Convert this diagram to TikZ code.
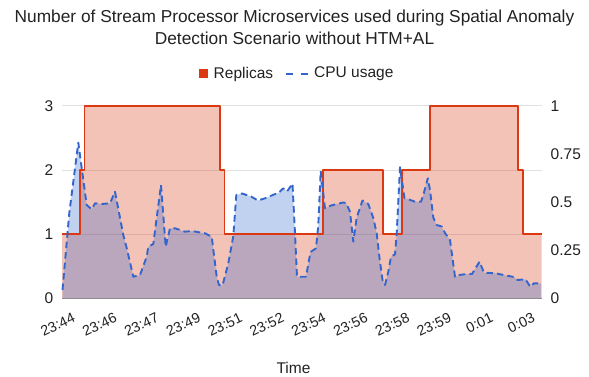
\documentclass[tikz,border=0pt]{standalone}
\usepackage{fontspec}
\setmainfont{Liberation Sans}
\definecolor{repred}{RGB}{220,57,18}
\definecolor{cpublue}{RGB}{51,102,204}
\definecolor{gridc}{RGB}{224,224,224}
\definecolor{basec}{RGB}{140,140,140}
\definecolor{txt}{RGB}{34,34,34}
\tikzset{
  ticklab/.style={inner sep=0pt, text=txt, font=\fontsize{15.5}{18}\selectfont},
  xlab/.style={inner sep=0pt, text=txt, font=\fontsize{14.3}{16}\selectfont, rotate=25, anchor=north east},
  gridline/.style={draw=gridc, line width=1pt},
  repline/.style={draw=repred, line width=1.9pt, line join=round},
  cpuline/.style={draw=cpublue, line width=1.9pt, dash pattern=on 6.5pt off 4pt, line join=round},
}
\begin{document}
\begin{tikzpicture}[x=1pt,y=-1pt]
\useasboundingbox (0,0) rectangle (589,377);
% title
\node[text=txt, font=\fontsize{17.3}{22.5}\selectfont, align=center, inner sep=0pt] (title) at (294.5,27.5)
  {Number of Stream Processor Microservices used during Spatial Anomaly\\Detection Scenario without HTM+AL};
% legend
\node[fill=repred, minimum size=9pt, inner sep=0pt] (legsq) at (203.5,73.7) {};
\node[ticklab, anchor=west] (legrep) at (213.5,74) {Replicas};
\coordinate (legd1a) at (286,74.5);
\coordinate (legd1b) at (293,74.5);
\coordinate (legd2a) at (300.5,74.5);
\coordinate (legd2b) at (308,74.5);
\draw[draw=cpublue, line width=2pt] (legd1a) -- (legd1b) (legd2a) -- (legd2b);
\node[ticklab, anchor=west] (legcpu) at (314,74) {CPU usage};
% grid
\coordinate (gl3) at (62,105.7); \coordinate (gr3) at (541.7,105.7);
\coordinate (gl2) at (62,170);   \coordinate (gr2) at (541.7,170);
\coordinate (gl1) at (62,234.1); \coordinate (gr1) at (541.7,234.1);
\coordinate (gl0) at (62,298.3); \coordinate (gr0) at (541.7,298.3);
\draw[gridline] (gl3) -- (gr3) (gl2) -- (gr2) (gl1) -- (gr1);
% replicas area
\def\reppath{(62,234.1) -- (79.8,234.1) -- (79.8,170) -- (84.5,170) -- (84.5,105.7) -- (220,105.7) -- (220,170) -- (224.5,170) -- (224.5,234.1) -- (322.8,234.1) -- (322.8,170) -- (383.3,170) -- (383.3,234.1) -- (402,234.1) -- (402,170) -- (430,170) -- (430,105.7) -- (518.3,105.7) -- (518.3,170) -- (523.3,170) -- (523.3,234.1) -- (541.7,234.1)}
\fill[repred, opacity=0.3] (62,298.3) -- \reppath -- (541.7,298.3) -- cycle;
% cpu area
\def\cpupath{(62.5,290) -- (69.3,213) -- (78.3,142.7) -- (86.7,205) -- (91.7,209.3) -- (95,203.3) -- (101.7,204) -- (110,203.3) -- (115,191.7) -- (123.3,235) -- (126.7,248) -- (133.3,276.7) -- (140,275) -- (146.7,256.7) -- (148.3,246.7) -- (153.3,244) -- (161,185) -- (165.7,246.7) -- (170,228.3) -- (175,228.3) -- (185,231.7) -- (191.7,231) -- (205,233.3) -- (211.7,236.7) -- (216.7,276.7) -- (219,285) -- (222.5,285.5) -- (228.3,263.3) -- (233.3,236) -- (236.3,195) -- (242,193.5) -- (251,196.5) -- (258,200.5) -- (265,198.3) -- (274,194.5) -- (279,192.5) -- (283.3,188.3) -- (287,191.5) -- (292.5,183.7) -- (295,233.3) -- (297,276.7) -- (306,276.7) -- (310.5,252) -- (316,248.3) -- (318.3,225) -- (320.7,171) -- (325,208.3) -- (331,205.5) -- (343,202.5) -- (346,203) -- (350,211.7) -- (353.3,241.7) -- (356.7,217.5) -- (362.5,200.5) -- (368.3,204) -- (373.3,218) -- (376.7,233.3) -- (379.5,258) -- (382.5,280) -- (385,285) -- (388.3,271.7) -- (391,256.7) -- (395,254.3) -- (396.7,233.3) -- (400,167.2) -- (404.5,198.3) -- (408.3,199.3) -- (415,201.7) -- (421,201.7) -- (423.3,195) -- (427.8,178.3) -- (430,190) -- (433.3,217.5) -- (436.7,225) -- (441.7,226.5) -- (445,233) -- (450,240) -- (455,276.7) -- (459,275) -- (466.7,274) -- (472,274) -- (479.5,261.7) -- (484,272.7) -- (495.5,273.3) -- (506,275.5) -- (514,277) -- (517.5,280) -- (525.5,279.3) -- (530.5,287) -- (533.8,283.3) -- (541,283.5)}
\fill[cpublue, opacity=0.3] (62.5,298.3) -- \cpupath -- (541,298.3) -- cycle;
% baseline
\draw[draw=basec, line width=1pt] (gl0) -- (gr0);
% lines
\draw[repline] \reppath;
\draw[cpuline] \cpupath;
% left axis
\node[ticklab, anchor=east] (ly3) at (53.5,105.7) {3};
\node[ticklab, anchor=east] (ly2) at (53.5,170) {2};
\node[ticklab, anchor=east] (ly1) at (53.5,234.1) {1};
\node[ticklab, anchor=east] (ly0) at (53.5,298.3) {0};
% right axis
\node[ticklab, anchor=west] (ry4) at (550.5,105.7) {1};
\node[ticklab, anchor=west] (ry3) at (550.5,153.8) {0.75};
\node[ticklab, anchor=west] (ry2) at (550.5,201.9) {0.5};
\node[ticklab, anchor=west] (ry1) at (550.5,250.2) {0.25};
\node[ticklab, anchor=west] (ry0) at (550.5,298.3) {0};
% x labels
\node[xlab] (x0) at (72,312) {23:44};
\node[xlab] (x1) at (113.8,312) {23:46};
\node[xlab] (x2) at (155.6,312) {23:47};
\node[xlab] (x3) at (197.4,312) {23:49};
\node[xlab] (x4) at (239.2,312) {23:51};
\node[xlab] (x5) at (281,312) {23:52};
\node[xlab] (x6) at (322.8,312) {23:54};
\node[xlab] (x7) at (364.6,312) {23:56};
\node[xlab] (x8) at (406.4,312) {23:58};
\node[xlab] (x9) at (448.2,312) {23:59};
\node[xlab] (x10) at (490,312) {0:01};
\node[xlab] (x11) at (531.8,312) {0:03};
% axis title
\node[ticklab] (xtitle) at (293.5,368) {Time};
\end{tikzpicture}
\end{document}
